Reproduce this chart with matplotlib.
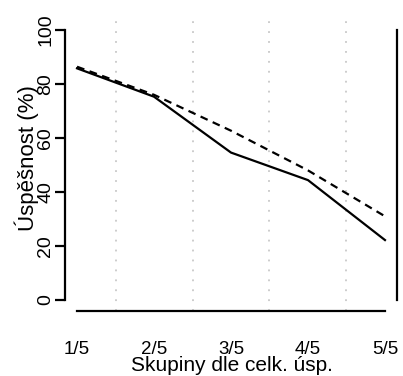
import matplotlib
matplotlib.use("Agg")
import matplotlib.pyplot as plt

categories = ["1/5", "2/5", "3/5", "4/5", "5/5"]
solid_vals = [85.8, 75.3, 54.6, 44.4, 22.2]
dashed_vals = [86.4, 76.0, 62.7, 48.0, 31.0]
yticks = [0, 20, 40, 60, 80, 100]

plt.rcParams['font.family'] = ['Liberation Sans', 'DejaVu Sans']

W, H = 403, 376
fig = plt.figure(figsize=(W / 100, H / 100), dpi=100)
left, right = 64.7 / W, 397.3 / W
bottom, top = 1 - 310.8 / H, 1 - 19.2 / H
ax = fig.add_axes([left, bottom, right - left, top - bottom])

x = list(range(1, len(categories) + 1))
ax.set_xlim(0.84, 5.16)
ax.set_ylim(-4, 104)

# dotted separators between groups
for xv in [1.5, 2.5, 3.5, 4.5]:
    ax.plot([xv, xv], [-4, 104], color="#c8c8c8", lw=1.3,
            linestyle=(0, (1, 4.5)), zorder=1)

ax.plot(x, solid_vals, color="black", lw=1.6, zorder=3)
ax.plot(x, dashed_vals, color="black", lw=1.6, dashes=(3.5, 2.5), zorder=3)

# spines
ax.spines['top'].set_visible(False)
for s in ['left', 'right', 'bottom']:
    ax.spines[s].set_linewidth(1.6)
ax.spines['left'].set_bounds(0, 100)
ax.spines['right'].set_bounds(0, 100)
ax.spines['bottom'].set_bounds(1, 5)

ax.set_yticks(yticks)
ax.set_yticklabels([str(v) for v in yticks], rotation=90, va='center',
                   fontsize=14)
ax.tick_params(axis='y', length=7.2, width=1.6, pad=0.5, direction='out')

ax.set_xticks(x)
ax.set_xticklabels(categories, fontsize=13.5)
ax.tick_params(axis='x', length=0, pad=21.5)

fig.text(232 / W, 1 - 371 / H, "Skupiny dle celk. úsp.",
         ha='center', va='baseline', fontsize=15)
fig.text(27 / W, 1 - 158 / H, "Úspěšnost (%)", rotation=90,
         ha='center', va='center', fontsize=16)

fig.savefig("out.png", dpi=100)
